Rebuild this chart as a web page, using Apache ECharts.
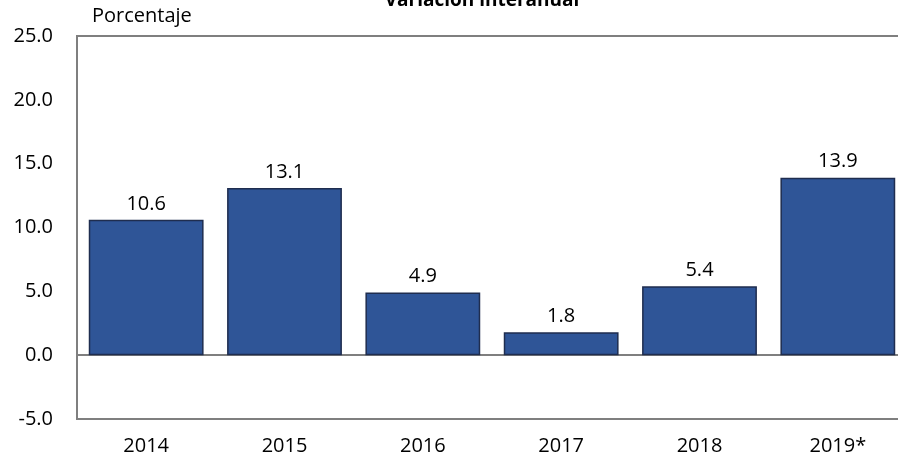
<!DOCTYPE html>
<html>
<head>
<meta charset="utf-8">
<script src="https://cdn.jsdelivr.net/npm/echarts@6/dist/echarts.min.js"></script>
<style>html,body{margin:0;padding:0;background:#fff;}#c{width:898px;height:459px;}</style>
</head>
<body>
<div id="c"></div>
<script>
var categories = ['2014', '2015', '2016', '2017', '2018', '2019*'];
var values = [10.6, 13.1, 4.9, 1.8, 5.4, 13.9];
var yTicks = [-5, 0, 5, 10, 15, 20, 25];

var chart = echarts.init(document.getElementById('c'));
var font = '"Open Sans", "Noto Sans", sans-serif';
chart.setOption({
  animation: false,
  title: {
    text: 'Variación interanual',
    left: 477, top: -14, textAlign: 'center',
    textStyle: { fontFamily: font, fontSize: 19, fontWeight: 'bold', color: '#000' }
  },
  graphic: [{
    type: 'text', left: 92, top: 6,
    style: { text: 'Porcentaje', fontFamily: font, fontSize: 20, fill: '#000' }
  }],
  grid: {
    left: 77, width: 830, top: 36, bottom: 40,
    outerBoundsMode: 'none', containLabel: false,
    show: true, borderColor: '#7f7f7f', borderWidth: 2, backgroundColor: 'transparent'
  },
  xAxis: {
    type: 'category', data: categories,
    axisLine: { onZero: true, lineStyle: { color: '#7f7f7f', width: 2 } },
    axisTick: { show: false },
    axisLabel: { fontFamily: font, fontSize: 20, color: '#000', margin: 17 },
    position: 'bottom'
  },
  yAxis: {
    type: 'value', min: yTicks[0], max: yTicks[yTicks.length - 1], interval: 5,
    splitLine: { show: false },
    axisLine: { show: true, lineStyle: { color: '#7f7f7f', width: 2 } },
    axisTick: { show: false },
    axisLabel: { fontFamily: font, fontSize: 20, color: '#000', margin: 24,
      formatter: function (v) { return v.toFixed(1); } }
  },
  series: [{
    type: 'bar', data: values,
    barCategoryGap: '17%',
    itemStyle: { color: '#2f5597', borderColor: '#1f2d4f', borderWidth: 1.5 },
    label: { show: true, position: 'top', distance: 6, fontFamily: font, fontSize: 20, color: '#000',
      formatter: function (p) { return p.value.toFixed(1); } }
  }]
});
</script>
</body>
</html>
